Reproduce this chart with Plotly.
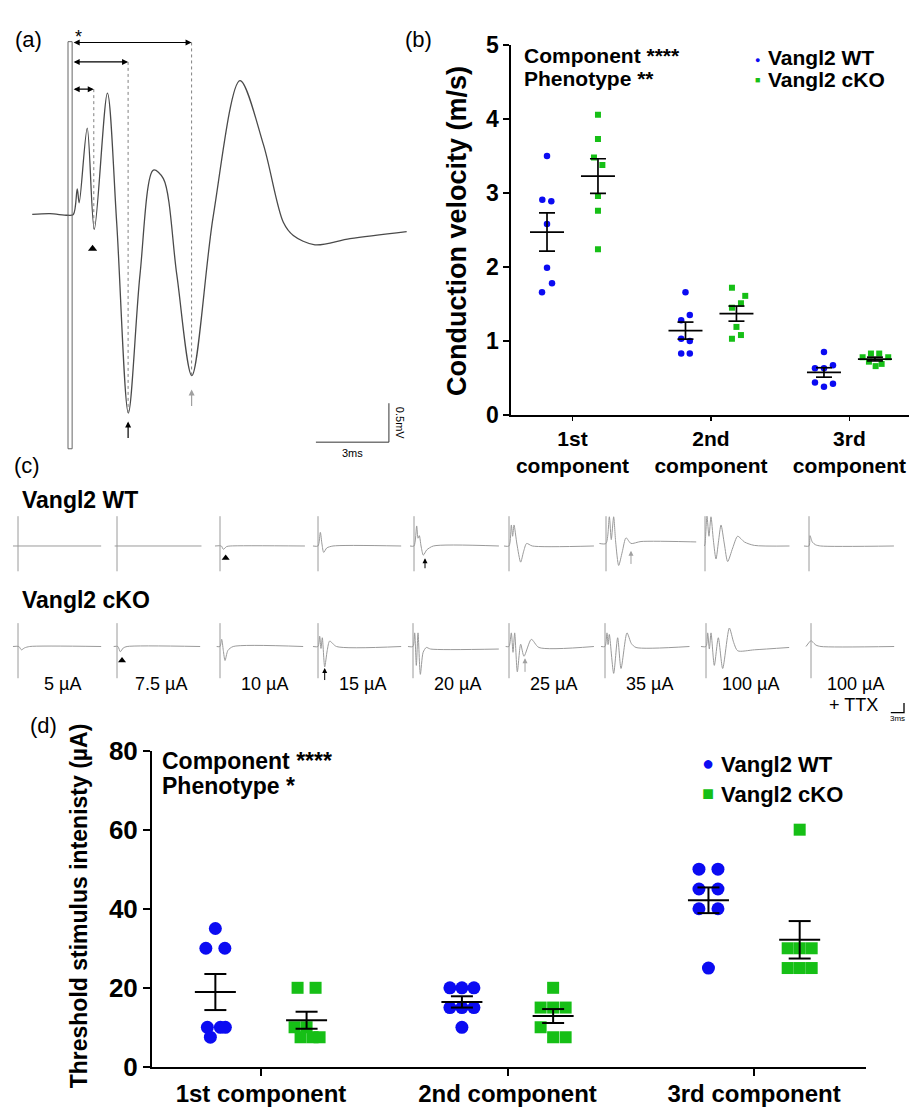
import numpy as np
import plotly.graph_objects as go

W, H = 924, 1113
FONT = "Arial, 'Liberation Sans', 'DejaVu Sans', sans-serif"
BLUE = "#0b0bf2"
GREEN = "#16bf16"
TRACE_GREY = "#9a9a9a"

# ------------------------------------------------------------------ data
# (a) representative compound action potential (ms, mV)
a_time_ms = [-1.47, -0.74, -0.01, 0.22, 0.38, 0.46, 0.79, 1.08, 1.62, 2.00, 2.48,
             2.96, 3.51, 3.92, 4.47, 5.09, 5.97, 7.07, 8.03, 8.85, 9.26, 10.15,
             11.59, 13.92]
a_volt_mv = [0.0, 0.01, -0.01, 0.0, 0.33, 0.15, 1.11, -0.19, 1.56, -0.10, -2.55,
             -0.77, 0.57, 0.46, -0.77, -2.07, -0.02, 1.72, 0.90, -0.10, -0.27,
             -0.39, -0.31, -0.22]
a_artifact_ms = [0.0, 0.17]
a_artifact_mv = [-3.01, 2.22]
a_latency_ms = [1.06, 2.47, 5.08]
a_trough_mv = [-0.19, -2.55, -2.07]
a_scale_ms = 3
a_scale_mv = 0.5

# (b) conduction velocity (m/s)
components = ["1st component", "2nd component", "3rd component"]
b_wt = [[3.50, 2.91, 2.89, 2.58, 1.99, 1.78, 1.66],
        [1.66, 1.35, 1.28, 1.03, 1.00, 0.83, 0.83],
        [0.85, 0.67, 0.63, 0.63, 0.44, 0.42, 0.38]]
b_cko = [[4.06, 3.73, 3.48, 3.38, 2.96, 2.76, 2.24],
         [1.72, 1.61, 1.51, 1.45, 1.19, 1.08, 1.03],
         [0.83, 0.83, 0.78, 0.78, 0.72, 0.69, 0.66]]

# (c) stimulus series traces (ms, mV)
stim_labels = ["5 µA", "7.5 µA", "10 µA", "15 µA", "20 µA", "25 µA", "35 µA", "100 µA", "100 µA"]
c_wt_t = [
    [-1.14, 18.9],
    [-0.53, 19.2],
    [-1.14, 0.3, 0.76, 1.5, 2.3, 19.3],
    [-1.14, 0.0, 0.53, 0.9, 1.29, 2.0, 3.4, 18.9],
    [-0.91, 0.0, 0.61, 0.91, 1.21, 1.6, 2.12, 2.9, 4.4, 19.3],
    [-1.14, 0.0, 0.53, 0.83, 1.14, 1.8, 2.65, 3.3, 4.0, 5.3, 19.3],
    [-1.5, 0.0, 0.76, 1.2, 1.74, 2.2, 2.88, 3.7, 4.55, 5.68, 7.95, 22.0],
    [-0.15, 0.0, 0.45, 0.9, 1.36, 1.9, 2.5, 3.05, 3.64, 4.4, 5.15, 6.3, 7.42, 9.0, 11.2, 19.2],
    [-1.14, 0.0, 0.23, 0.76, 1.5, 2.65, 19.3],
]
c_wt_v = [
    [0, 0],
    [0, 0],
    [0, 0, -0.17, -0.03, 0, 0],
    [0, 0, 0.7, 0.1, -0.33, -0.1, 0, 0],
    [0, 0, 1.03, 0.4, 0.53, 0.0, -0.47, -0.2, 0, 0],
    [0, 0, 1.08, 0.5, 1.08, 0.1, -0.83, -0.3, 0.13, 0, 0],
    [0.13, 0.13, 1.5, 0.33, 1.5, 0.2, -1.0, -0.3, 0.42, 0.13, 0.23, 0.2],
    [0, 0.1, 1.53, 0.5, 1.5, 0.3, -0.67, 0.2, 1.08, 0.1, -0.8, -0.1, 0.5, 0.2, 0.03, 0],
    [0, 0, 0.53, 0.2, 0.06, 0, 0],
]
c_cko_t = [
    [-1.14, 0.2, 0.76, 1.5, 2.65, 18.9],
    [-0.76, 0.2, 0.76, 1.4, 2.3, 18.9],
    [-0.76, 0.0, 0.38, 0.75, 1.14, 1.8, 3.0, 18.9],
    [-1.14, 0.0, 0.38, 0.68, 0.98, 1.52, 2.1, 2.65, 4.2, 18.9],
    [-1.14, 0.0, 0.38, 0.76, 1.14, 1.67, 2.3, 3.03, 4.0, 19.5],
    [-0.76, 0.0, 0.53, 0.91, 1.29, 1.89, 2.65, 3.41, 5.08, 6.8, 19.3],
    [-0.91, 0.0, 0.45, 0.7, 0.98, 1.97, 2.88, 3.64, 5.0, 6.0, 7.05, 19.2],
    [-1.14, 0.0, 0.38, 0.76, 1.14, 1.89, 2.8, 3.79, 5.3, 6.3, 7.2, 11.0, 18.9],
    [-1.14, 0.0, 0.3, 1.14, 2.27, 18.9],
]
c_cko_v = [
    [0, 0, -0.17, -0.07, 0, 0],
    [0, 0, -0.27, -0.08, 0, 0],
    [0, 0, 0.37, -0.2, -0.72, -0.2, 0, 0],
    [0, 0, 0.53, -0.1, 0.45, -1.05, -0.2, 0.28, 0, 0],
    [0, 0, 0.7, -0.97, 0.7, -1.43, -0.3, -0.05, -0.13, -0.13],
    [0, 0, 0.7, -0.3, 0.7, -1.3, 0.12, -0.5, 0.37, -0.05, 0],
    [0, 0, 0.7, 0.1, 0.62, -1.38, 0.45, -1.13, 0.7, 0.15, -0.05, 0],
    [0, 0, 0.7, -0.13, 0.7, -0.97, 0.45, -1.13, 0.95, 0.2, -0.22, -0.17, -0.05],
    [0, 0.3, 0.25, 0.07, 0, 0],
]
c_artifact_wt = [-1.3, 1.53]
c_artifact_cko = [-1.63, 1.2]
c_scale_ms = 3
c_scale_mv = 0.5

# (d) threshold stimulus intensity (µA)
d_wt = [[35, 30, 30, 10, 10, 10, 7.5],
        [20, 20, 20, 15, 15, 15, 10],
        [50, 50, 45, 45, 40, 40, 25]]
d_cko = [[20, 20, 10, 10, 7.5, 7.5, 7.5],
         [20, 15, 15, 15, 10, 7.5, 7.5],
         [60, 30, 30, 30, 25, 25, 25]]

# ------------------------------------------------------------------ layout helpers
def px(x):
    return x / W


def py(y):
    return 1 - y / H


# scatter-plot horizontal spreading (pixels) of coincident points
b_wt_spread = [[0, -4.7, 4.3, 0, 0, 5, -5], [0, 4.3, -4.3, -4.3, 4.3, -4.3, 4.3], [0, 9, -9, 0, -9, 9, 0]]
b_cko_spread = [[0, 0, -4, 4.4, 0, 0, 0], [-4.5, 8.8, 4.5, -4.5, 0, 4.5, -4.5], [-4, 4.3, -12.3, 13.3, -6, 6.7, 0.7]]
d_wt_spread = [[0, -9.5, 9.5, -8, 5, 10, -5], [-12, 0, 12, -12, 0, 12, 0], [-9.5, 9.5, -9.5, 9.5, -9.5, 9.5, 0]]
d_cko_spread = [[-9, 9, -12, 0, -6, 6, 13], [0, -12.5, 0, 12.5, -12.5, 0, 12.5], [0, -12, 0, 12, -12, 0, 12]]

fig = go.Figure()
layout = dict(width=W, height=H, margin=dict(l=0, r=0, t=0, b=0, pad=0),
              paper_bgcolor="white", plot_bgcolor="white", showlegend=False,
              font=dict(family=FONT, color="black"))
annotations = []


def ann(text, x, y, size, bold=False, xanchor="center", yanchor="middle", angle=0,
        color="black", xref="paper", yref="paper"):
    annotations.append(dict(text=text, x=x, y=y, xref=xref, yref=yref, showarrow=False,
                            xanchor=xanchor, yanchor=yanchor, textangle=angle,
                            font=dict(size=size, color=color, family=FONT,
                                      weight="bold" if bold else "normal")))


def arrow(x, tip, tail, xa, ya, color, head=2, width=1.2):
    annotations.append(dict(text="", x=x, y=tip, ax=x, ay=tail, xref=xa, yref=ya,
                            axref=xa, ayref=ya, showarrow=True, arrowhead=head,
                            arrowsize=1, arrowwidth=width, arrowcolor=color,
                            standoff=0, startstandoff=0))


# ------------------------------------------------------------------ (a)
a_px_ms = 24.33
a_px_mv = 80.0
a_x0, a_x1, a_y0, a_y1 = 30, 410, 10, 460   # pixel box
a_zero_x, a_zero_y = 68, 205
layout["xaxis"] = dict(domain=[px(a_x0), px(a_x1)],
                       range=[(a_x0 - a_zero_x) / a_px_ms, (a_x1 - a_zero_x) / a_px_ms],
                       visible=False, fixedrange=True, anchor="y")
layout["yaxis"] = dict(domain=[py(a_y1), py(a_y0)],
                       range=[(a_zero_y - a_y1) / a_px_mv, (a_zero_y - a_y0) / a_px_mv],
                       visible=False, fixedrange=True, anchor="x")

fig.add_trace(go.Scatter(x=a_time_ms, y=a_volt_mv, mode="lines", xaxis="x", yaxis="y",
                         line=dict(color="#4a4a4a", width=1.3, shape="spline", smoothing=0.9),
                         hoverinfo="skip"))
fig.add_trace(go.Scatter(x=[a_artifact_ms[0], a_artifact_ms[0], a_artifact_ms[1], a_artifact_ms[1], a_artifact_ms[0]],
                         y=[a_artifact_mv[0], a_artifact_mv[1], a_artifact_mv[1], a_artifact_mv[0], a_artifact_mv[0]],
                         mode="lines", xaxis="x", yaxis="y", line=dict(color="#666666", width=1),
                         hoverinfo="skip"))
bracket_mv = [1.61, 1.96, 2.21]
dx, dy = [], []
for lat, tr, br in zip(a_latency_ms, a_trough_mv, bracket_mv):
    dx += [lat, lat, None]
    dy += [br, tr, None]
fig.add_trace(go.Scatter(x=dx, y=dy, mode="lines", xaxis="x", yaxis="y",
                         line=dict(color="#808080", width=1, dash="dot"), hoverinfo="skip"))
for lat, br in zip(a_latency_ms, bracket_mv):
    annotations.append(dict(text="", x=lat, y=br, ax=a_artifact_ms[1], ay=br, xref="x", yref="y",
                            axref="x", ayref="y", showarrow=True, arrowhead=2, arrowside="end+start",
                            arrowsize=1.1, arrowwidth=1.1, arrowcolor="black", standoff=0,
                            startstandoff=0))
# component markers
fig.add_trace(go.Scatter(x=[a_latency_ms[0] - 0.05], y=[a_trough_mv[0] - 0.25], mode="markers",
                         xaxis="x", yaxis="y", marker=dict(symbol="triangle-up", size=8, color="black"),
                         hoverinfo="skip"))
arrow(a_latency_ms[1], a_trough_mv[1] - 0.11, a_trough_mv[1] - 0.34, "x", "y", "black")
arrow(a_latency_ms[2], a_trough_mv[2] - 0.18, a_trough_mv[2] - 0.41, "x", "y", "#a0a0a0")
ann("*", 0.45, 2.28, 18, xref="x", yref="y")
# scale bar
sb_t, sb_v = 13.19, -2.925
fig.add_trace(go.Scatter(x=[sb_t - a_scale_ms, sb_t, sb_t], y=[sb_v, sb_v, sb_v + a_scale_mv],
                         mode="lines", xaxis="x", yaxis="y", line=dict(color="#333333", width=1),
                         hoverinfo="skip"))
ann("3ms", sb_t - a_scale_ms / 2, sb_v - 0.14, 11, xref="x", yref="y")
ann("0.5mV", sb_t + 0.45, sb_v + a_scale_mv / 2, 11, angle=90, xref="x", yref="y")

# ------------------------------------------------------------------ (b)
b_left, b_right, b_top, b_bottom = 511, 909, 31, 411
b_range = [0.556, 3.43]
b_ppu = (b_right - b_left) / (b_range[1] - b_range[0])
layout["xaxis2"] = dict(domain=[px(b_left), px(b_right)], range=b_range, anchor="y2",
                        showline=True, linecolor="black", linewidth=1.7, ticks="outside",
                        ticklen=4, tickwidth=1.7, tickcolor="black", tickvals=[1, 2, 3],
                        ticktext=[c.replace(" ", "<br>") for c in components],
                        tickfont=dict(size=21, weight="bold", family=FONT, color="black"),
                        showgrid=False, zeroline=False, fixedrange=True)
layout["yaxis2"] = dict(domain=[py(b_bottom), py(b_top)], range=[0, 5], anchor="x2",
                        showline=True, linecolor="black", linewidth=1.7, ticks="outside",
                        ticklen=6, tickwidth=1.7, tickcolor="black", tickvals=[0, 1, 2, 3, 4, 5],
                        tickfont=dict(size=23, weight="bold", family=FONT, color="black"),
                        showgrid=False, zeroline=False, fixedrange=True)


def group_traces(values, spread, offset, ppu, color, symbol, size, xa, ya, mean_hw, cap_hw, lw):
    xs, ys = [], []
    lx, ly = [], []
    for i, (vals, sp) in enumerate(zip(values, spread)):
        cx = i + 1 + offset
        xs += [cx + s / ppu for s in sp]
        ys += list(vals)
        arr = np.array(vals, dtype=float)
        m = arr.mean()
        sem = arr.std(ddof=1) / np.sqrt(len(arr))
        lx += [cx - mean_hw, cx + mean_hw, None, cx, cx, None,
               cx - cap_hw, cx + cap_hw, None, cx - cap_hw, cx + cap_hw, None]
        ly += [m, m, None, m - sem, m + sem, None, m + sem, m + sem, None, m - sem, m - sem, None]
    fig.add_trace(go.Scatter(x=xs, y=ys, mode="markers", xaxis=xa, yaxis=ya,
                             marker=dict(color=color, symbol=symbol, size=size, line=dict(width=0)),
                             hoverinfo="skip"))
    fig.add_trace(go.Scatter(x=lx, y=ly, mode="lines", xaxis=xa, yaxis=ya,
                             line=dict(color="black", width=lw), hoverinfo="skip"))


grp_off = 0.184
group_traces(b_wt, b_wt_spread, -grp_off, b_ppu, BLUE, "circle", 6.5, "x2", "y2", 17 / b_ppu, 8 / b_ppu, 1.7)
group_traces(b_cko, b_cko_spread, grp_off, b_ppu, GREEN, "square", 6, "x2", "y2", 17 / b_ppu, 8 / b_ppu, 1.7)

ann("Component ****", px(522), py(42), 21, bold=True, xanchor="left")
ann("Phenotype **", px(522), py(65), 21, bold=True, xanchor="left")
ann("●", px(757), py(46), 9, color=BLUE)
ann("■", px(757), py(67), 9, color=GREEN)
ann("Vangl2 WT", px(766), py(44), 21, bold=True, xanchor="left")
ann("Vangl2 cKO", px(766), py(66), 21, bold=True, xanchor="left")
ann("Conduction velocity (m/s)", px(457), py(222), 27, bold=True, angle=-90)

# ------------------------------------------------------------------ (c)
c_px_ms = 4.4
c_px_mv = 20.0
c_rng_t = [-2.0, 22.0]
c_rng_v = [-1.9, 1.9]
c_rows = [
    dict(t=c_wt_t, v=c_wt_v, art=c_artifact_wt, base=545.7,
         cols=[18, 117, 220, 318, 414, 509, 606, 705, 809]),
    dict(t=c_cko_t, v=c_cko_v, art=c_artifact_cko, base=649.0,
         cols=[18, 117, 220, 318, 413, 509, 605, 706, 811]),
]
ax_n = 4
c_axes = {}
for r, row in enumerate(c_rows):
    for k in range(9):
        a0 = row["cols"][k]
        xn, yn = f"xaxis{ax_n}", f"yaxis{ax_n}"
        layout[xn] = dict(domain=[px(a0 + c_rng_t[0] * c_px_ms), px(a0 + c_rng_t[1] * c_px_ms)],
                          range=c_rng_t, visible=False, fixedrange=True, anchor=f"y{ax_n}")
        layout[yn] = dict(domain=[py(row["base"] - c_rng_v[0] * c_px_mv), py(row["base"] - c_rng_v[1] * c_px_mv)],
                          range=c_rng_v, visible=False, fixedrange=True, anchor=f"x{ax_n}")
        xa, ya = f"x{ax_n}", f"y{ax_n}"
        c_axes[(r, k)] = (xa, ya)
        fig.add_trace(go.Scatter(x=row["t"][k], y=row["v"][k], mode="lines", xaxis=xa, yaxis=ya,
                                 line=dict(color=TRACE_GREY, width=1, shape="spline", smoothing=0.7),
                                 hoverinfo="skip"))
        fig.add_trace(go.Scatter(x=[0, 0], y=row["art"], mode="lines", xaxis=xa, yaxis=ya,
                                 line=dict(color=TRACE_GREY, width=1), hoverinfo="skip"))
        ax_n += 1

# component markers in (c)
xa, ya = c_axes[(0, 2)]
fig.add_trace(go.Scatter(x=[1.29], y=[-0.62], mode="markers", xaxis=xa, yaxis=ya,
                         marker=dict(symbol="triangle-up", size=7, color="black"), hoverinfo="skip"))
xa, ya = c_axes[(1, 1)]
fig.add_trace(go.Scatter(x=[1.14], y=[-0.72], mode="markers", xaxis=xa, yaxis=ya,
                         marker=dict(symbol="triangle-up", size=7, color="black"), hoverinfo="skip"))
arrow(2.5, -0.63, -1.22, *c_axes[(0, 4)], "black", width=1)
arrow(5.68, -0.25, -1.0, *c_axes[(0, 6)], "#a0a0a0", width=1)
arrow(1.52, -1.1, -1.8, *c_axes[(1, 3)], "black", width=1)
arrow(3.64, -0.6, -1.38, *c_axes[(1, 5)], "#a0a0a0", width=1)

ann("Vangl2 WT", px(20), py(498), 23, bold=True, xanchor="left")
ann("Vangl2 cKO", px(20), py(601), 23, bold=True, xanchor="left")
for k, lab in enumerate(stim_labels):
    ann(lab, px(c_rows[1]["cols"][k] + 44), py(688), 18)
ann("+ TTX", px(c_rows[1]["cols"][8] + 42), py(709), 18)

# (c) scale bar axis (same scale as the traces)
sc_x, sc_y = 904, 717
layout[f"xaxis{ax_n}"] = dict(domain=[px(880), px(910)], range=[(880 - sc_x) / c_px_ms, (910 - sc_x) / c_px_ms],
                              visible=False, fixedrange=True, anchor=f"y{ax_n}")
layout[f"yaxis{ax_n}"] = dict(domain=[py(724), py(700)], range=[(sc_y - 724) / c_px_mv, (sc_y - 700) / c_px_mv],
                              visible=False, fixedrange=True, anchor=f"x{ax_n}")
fig.add_trace(go.Scatter(x=[-c_scale_ms, 0, 0], y=[0, 0, c_scale_mv], mode="lines",
                         xaxis=f"x{ax_n}", yaxis=f"y{ax_n}", line=dict(color="black", width=1.3),
                         hoverinfo="skip"))
ann("3ms", -c_scale_ms / 2, -0.32, 8, xref=f"x{ax_n}", yref=f"y{ax_n}")
ann("0.5mV", 2.3, c_scale_mv / 2, 8, angle=90, xref=f"x{ax_n}", yref=f"y{ax_n}")

# ------------------------------------------------------------------ (d)
d_left, d_right, d_top, d_bottom = 152, 866, 756, 1081
d_range = [0.558, 3.454]
d_ppu = (d_right - d_left) / (d_range[1] - d_range[0])
layout["xaxis3"] = dict(domain=[px(d_left), px(d_right)], range=d_range, anchor="y3",
                        showline=True, linecolor="black", linewidth=2, ticks="outside",
                        ticklen=7, tickwidth=2, tickcolor="black", tickvals=[1, 2, 3],
                        ticktext=components,
                        tickfont=dict(size=24, weight="bold", family=FONT, color="black"),
                        showgrid=False, zeroline=False, fixedrange=True)
layout["yaxis3"] = dict(domain=[py(d_bottom), py(d_top)], range=[0, 80], anchor="x3",
                        showline=True, linecolor="black", linewidth=2, ticks="outside",
                        ticklen=7, tickwidth=2, tickcolor="black", tickvals=[0, 20, 40, 60, 80],
                        tickfont=dict(size=26, weight="bold", family=FONT, color="black"),
                        showgrid=False, zeroline=False, fixedrange=True)
d_off = 0.185
group_traces(d_wt, d_wt_spread, -d_off, d_ppu, BLUE, "circle", 13, "x3", "y3", 20.5 / d_ppu, 11 / d_ppu, 2)
group_traces(d_cko, d_cko_spread, d_off, d_ppu, GREEN, "square", 12, "x3", "y3", 20.5 / d_ppu, 11 / d_ppu, 2)

ann("Component ****", px(160), py(767), 23, bold=True, xanchor="left")
ann("Phenotype *", px(160), py(792), 23, bold=True, xanchor="left")
ann("●", px(708), py(769), 20, color=BLUE)
ann("■", px(708), py(800), 20, color=GREEN)
ann("Vangl2 WT", px(719), py(770), 22, bold=True, xanchor="left")
ann("Vangl2 cKO", px(719), py(801), 22, bold=True, xanchor="left")
ann("Threshold stimulus intenisty (µA)", px(79), py(916), 23, bold=True, angle=-90)

# ------------------------------------------------------------------ panel letters
ann("(a)", px(28), py(25), 22)
ann("(b)", px(418), py(25), 22)
ann("(c)", px(27), py(463), 22)
ann("(d)", px(43), py(730), 22)

layout["annotations"] = annotations
fig.update_layout(**layout)
try:
    fig.update_xaxes(ticklabelstandoff=-3, selector=dict(anchor="y3"))
except Exception:
    pass
fig.write_html("out.html",
               config={"displayModeBar": False, "staticPlot": True},
               post_script="document.documentElement.style.margin='0';document.body.style.margin='0';"
                           "document.body.style.overflow='hidden';")
